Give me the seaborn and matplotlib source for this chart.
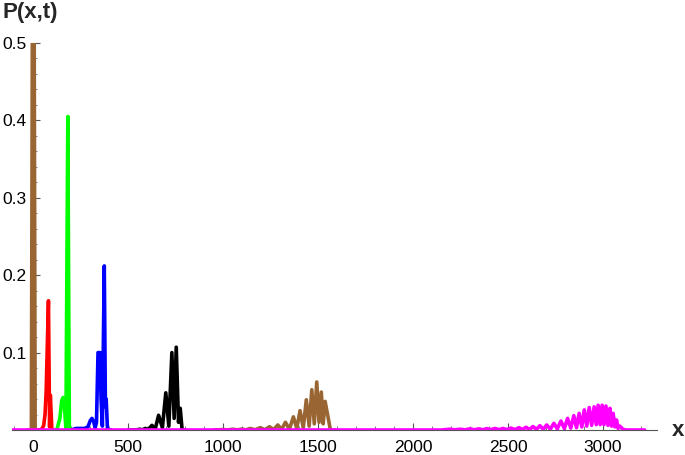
import numpy as np
import pandas as pd
import matplotlib
matplotlib.use("Agg")
import matplotlib.pyplot as plt
from matplotlib.ticker import MultipleLocator
import seaborn as sns

# values (x = site, P = probability)
spike_x = [-30, -10, 0, 10, 30]
spike_p = [0, 0, 1.0, 0, 0]

red_x = [30, 45, 55, 62, 68, 74, 80, 86, 90, 98, 110]
red_p = [0, 0.001, 0.006, 0.02, 0.05, 0.11, 0.167, 0.004, 0.045, 0, 0]

green_x = [110, 125, 140, 150, 157, 163, 172, 182, 190, 196, 210]
green_p = [0, 0.001, 0.015, 0.038, 0.042, 0.035, 0.002, 0.405, 0.005, 0, 0]

blue_x = [200, 225, 270, 288, 300, 309, 318, 326, 333, 341, 352, 357, 364, 374, 380, 384, 391, 410]
blue_p = [0, 0.002, 0.002, 0.004, 0.012, 0.015, 0.011, 0.003, 0.01, 0.1, 0.1, 0.04, 0.005, 0.212, 0.03, 0.04, 0, 0]

black_x = [500, 540, 560, 575, 590, 605, 625, 642, 660, 680, 698, 714, 730, 742, 753, 765, 774, 784, 800]
black_p = [0, 0, 0.001, 0.0003, 0.002, 0.0005, 0.006, 0.001, 0.019, 0.003, 0.048, 0.005, 0.100, 0.015, 0.107, 0.01, 0.028, 0, 0]

brown_x = [950, 1000, 1025, 1050, 1075, 1098, 1120, 1142, 1168, 1195, 1220, 1244, 1266, 1288, 1308, 1328,
           1349, 1370, 1388, 1405, 1422, 1438, 1453, 1467, 1480, 1493, 1505, 1517, 1527, 1537, 1550, 1565, 1590]
brown_p = [0, 0.0005, 0.0001, 0.001, 0.0002, 0.0012, 0.0002, 0.002, 0.0003, 0.003, 0.0004, 0.0042, 0.0005, 0.0065,
           0.0008, 0.010, 0.001, 0.017, 0.002, 0.025, 0.003, 0.039, 0.005, 0.052, 0.008, 0.062, 0.01, 0.049,
           0.008, 0.037, 0.02, 0, 0]

magenta_x = [-120, 2150, 2195, 2221, 2247, 2273, 2300, 2323, 2347, 2368, 2389, 2410, 2432, 2453, 2474, 2495,
             2516, 2537, 2558, 2577, 2595, 2614, 2632, 2650, 2668, 2686, 2704, 2723, 2742, 2760, 2779, 2797,
             2814, 2831, 2847, 2861, 2875, 2889, 2902, 2915, 2928, 2941, 2954, 2965, 2975, 2986, 2996, 3006,
             3016, 3027, 3037, 3046, 3054, 3063, 3072, 3080, 3089, 3105, 3121, 3220]
magenta_p = [0, 0, 0.001, 0.0002, 0.001, 0.0002, 0.0015, 0.0003, 0.0015, 0.0003, 0.0018, 0.0004, 0.002, 0.0004,
             0.002, 0.0005, 0.0025, 0.0005, 0.003, 0.0006, 0.0035, 0.0007, 0.0045, 0.0008, 0.0055, 0.001, 0.0065,
             0.001, 0.0086, 0.0015, 0.0116, 0.002, 0.015, 0.0025, 0.0185, 0.003, 0.0215, 0.004, 0.026, 0.005,
             0.029, 0.006, 0.030, 0.007, 0.032, 0.007, 0.032, 0.007, 0.031, 0.006, 0.028, 0.005, 0.0215, 0.004,
             0.013, 0.002, 0.005, 0.001, 0, 0]

series = [("spike", spike_x, spike_p), ("red", red_x, red_p), ("green", green_x, green_p),
          ("blue", blue_x, blue_p), ("black", black_x, black_p), ("brown", brown_x, brown_p),
          ("magenta", magenta_x, magenta_p)]
colors = {"spike": "#996633", "red": "#ff0000", "green": "#00ff00", "blue": "#0000ff",
          "black": "#000000", "brown": "#996633", "magenta": "#ff00ff"}

rows = []
for name, xs, ps in series:
    for a, b in zip(xs, ps):
        rows.append((name, a, b))
df = pd.DataFrame(rows, columns=["curve", "x", "P"])

sns.set_style("ticks")
plt.rcParams['font.family'] = ['Liberation Sans', 'DejaVu Sans']

fig = plt.figure(figsize=(6.85, 4.55), dpi=100)
ax = fig.add_axes([12/685, 1-430/455, 645/685, 387/455])

sns.lineplot(data=df, x="x", y="P", hue="curve", hue_order=[s[0] for s in series],
             palette=colors, estimator=None, sort=False, linewidth=2.6, legend=False, ax=ax)

ax.set_xlim(-112, 3285)
ax.set_ylim(0, 0.5)
ax.set_xlabel("")
ax.set_ylabel("")

ax.spines['top'].set_visible(False)
ax.spines['right'].set_visible(False)
ax.spines['left'].set_position(('data', 0))
for s in ['left', 'bottom']:
    ax.spines[s].set_color('#555555')
    ax.spines[s].set_linewidth(0.8)
    ax.spines[s].set_zorder(1)

ax.set_xticks([0, 500, 1000, 1500, 2000, 2500, 3000])
ax.set_yticks([0.1, 0.2, 0.3, 0.4, 0.5])
ax.set_yticklabels(["0.1", "0.2", "0.3", "0.4", "0.5"])
ax.xaxis.set_minor_locator(MultipleLocator(100))
ax.yaxis.set_minor_locator(MultipleLocator(0.02))
ax.tick_params(which='both', bottom=True, left=True, top=False, right=False)
ax.tick_params(which='major', direction='in', length=5, width=0.8, color='#555555',
               labelsize=12.5, labelcolor='black')
ax.tick_params(which='minor', direction='in', length=3, width=0.6, color='#666666')
ax.tick_params(axis='x', which='major', pad=7)
ax.tick_params(axis='y', which='major', pad=5)

fig.text(3/685, 1-2/455, "P(x,t)", fontsize=16, fontweight='bold', ha='left', va='top')
fig.text(678/685, 1-431/455, "x", fontsize=16, fontweight='bold', ha='center', va='center')

fig.savefig("out.png", dpi=100)
